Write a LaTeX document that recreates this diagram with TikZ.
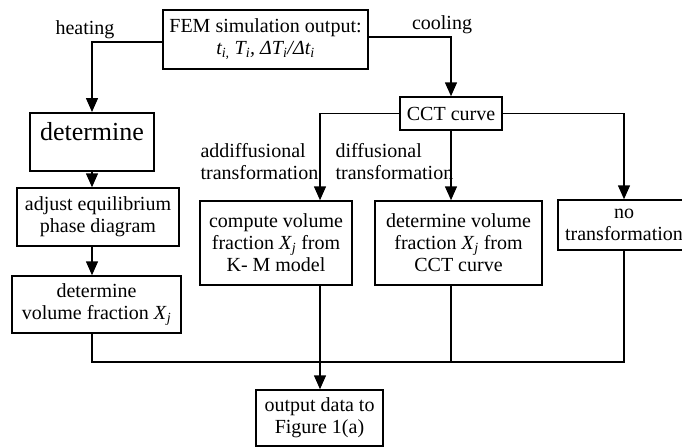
\documentclass[tikz,border=0pt]{standalone}
\usepackage{fontspec}
\setmainfont{Liberation Serif}
\usetikzlibrary{arrows.meta}
\newcommand{\Xj}{\textit{X}\textsubscript{\textit{j}}}
\tikzset{
  box/.style={draw, line width=1.5pt, align=center, inner sep=2pt},
  flow/.style={line width=1.5pt, -{Triangle[length=14pt,width=12pt]}},
  link/.style={line width=1.5pt},
}

\begin{document}
\begin{tikzpicture}[x=1pt, y=-1pt, font=\fontsize{20}{22}\selectfont]
    \useasboundingbox (0,0) rectangle (682,447);
    \node[box, minimum width=205pt, minimum height=59pt] at (265.5,39.5) (fem)
      {FEM simulation output:\\ \textit{t\textsubscript{i,} T\textsubscript{i}, ΔT\textsubscript{i}/Δt\textsubscript{i}}};
    \node at (85,30) (heat) {heating};
    \node at (442,25) (cool) {cooling};
    \node[box, anchor=north, font=\fontsize{26}{28}\selectfont, minimum width=124pt,
          inner ysep=0pt, text height=28pt, text depth=30pt] at (92,112) (det) {determine};
    \node[box, minimum width=162pt, minimum height=58pt] at (98,217) (adj) {adjust equilibrium\\ phase diagram};
    \node[box, minimum width=169pt, minimum height=57pt] at (96.5,304.5) (vol) {determine\\ volume fraction \Xj};
    \node[box, minimum width=102pt, minimum height=33pt] at (451,113.5) (cct) {CCT curve};
    \node[align=left, anchor=west] at (197,162) (addif) {addiffusional\\ transformation};
    \node[align=left, anchor=west] at (332,162) (dif) {diffusional\\ transformation};
    \node[box, minimum width=152pt, minimum height=84pt] at (276,243) (km) {compute volume\\ fraction \Xj{} from\\ K- M model};
    \node[box, minimum width=167pt, minimum height=84pt] at (458.5,243) (cctx) {determine volume\\ fraction \Xj{} from\\ CCT curve};
    \node[box, minimum width=132pt, minimum height=50pt] at (624,225) (none) {no\\ transformation};
    \node[box, minimum width=127pt, minimum height=56pt] at (319.5,418) (out) {output data to\\ Figure 1(a)};
    \coordinate (kmx) at (320,0);
    \coordinate (join) at (0,362);
    % heating branch
    \draw[flow] ([yshift=-2.5pt]fem.west) -| (det.north);
    \draw[flow] (det.south) -- (det.south |- adj.north);
    \draw[flow] (det.south |- adj.south) -- (det.south |- vol.north);
    % cooling branch
    \draw[flow] ([yshift=2.5pt]fem.east) -| (cct.north);
    \draw[flow] (cct.west) -| (kmx |- km.north);
    \draw[flow] (cct.south) -- (cct.south |- cctx.north);
    \draw[flow] (cct.east) -| (none.north);
    % collect results
    \draw[link] (det.south |- vol.south) -- (det.south |- join) -- (none.south |- join) -- (none.south);
    \draw[link] (cct.south |- cctx.south) -- (cct.south |- join);
    \draw[flow] (kmx |- km.south) -- (kmx |- out.north);
\end{tikzpicture}
\end{document}
